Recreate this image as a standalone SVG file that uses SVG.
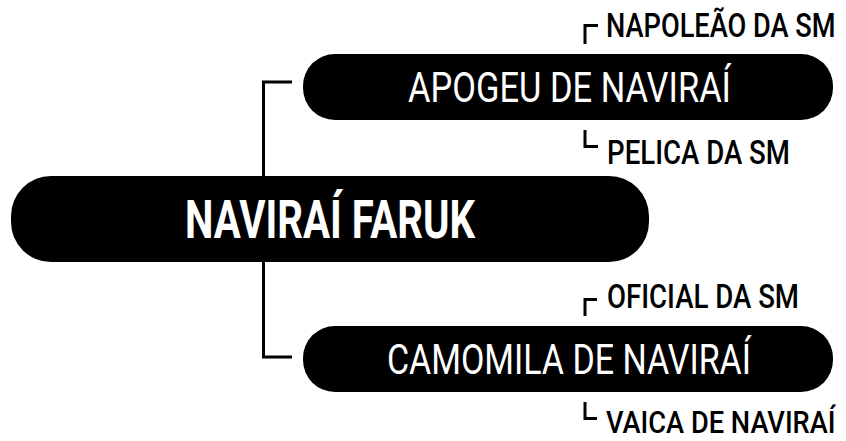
<svg xmlns="http://www.w3.org/2000/svg" width="846" height="441" viewBox="0 0 846 441">
<style>
.pill{fill:#000}
.ln{fill:none;stroke:#000;stroke-width:3}
.t{font-family:Roboto,"Liberation Sans",sans-serif;fill:#fff;text-anchor:start}
.main{font-size:53px;font-weight:700}
.sub{font-size:42px;font-weight:400}
.lbl{font-family:Roboto,"Liberation Sans",sans-serif;fill:#000;font-size:33px;font-weight:500}
</style>
<rect width="846" height="441" fill="#fff"/>
<g id="connectors">
<path class="ln" d="M292,82 H263.5 V357 H292"/>
<path class="ln" d="M585,44 V25.5 H598"/>
<path class="ln" d="M585,130 V146.5 H598"/>
<path class="ln" d="M585,316 V299.5 H597"/>
<path class="ln" d="M585,402 V418.5 H597"/>
</g>
<g id="navirai-faruk">
<rect class="pill" x="11" y="176" width="638" height="86" rx="40"/>
<text class="t main" x="185" y="238" textLength="290" lengthAdjust="spacingAndGlyphs">NAVIRAÍ FARUK</text>
</g>
<g id="apogeu">
<rect class="pill" x="303" y="54" width="530" height="66" rx="32"/>
<text class="t sub" x="408" y="102" textLength="323" lengthAdjust="spacingAndGlyphs">APOGEU DE NAVIRAÍ</text>
</g>
<g id="camomila">
<rect class="pill" x="303" y="326" width="530" height="66" rx="32"/>
<text class="t sub" x="387" y="374" textLength="364" lengthAdjust="spacingAndGlyphs">CAMOMILA DE NAVIRAÍ</text>
</g>
<g id="napoleao">
<text class="lbl" transform="translate(606,37) scale(0.85,1)" x="0" y="0" textLength="270" lengthAdjust="spacingAndGlyphs">NAPOLEÃO DA SM</text>
</g>
<g id="pelica">
<text class="lbl" x="607" y="164" textLength="183" lengthAdjust="spacingAndGlyphs">PELICA DA SM</text>
</g>
<g id="oficial">
<text class="lbl" x="607" y="308" textLength="192" lengthAdjust="spacingAndGlyphs">OFICIAL DA SM</text>
</g>
<g id="vaica">
<text class="lbl" style="font-size:32px" transform="translate(606,432.5) scale(0.85,1)" x="0" y="0" textLength="270" lengthAdjust="spacingAndGlyphs">VAICA DE NAVIRAÍ</text>
</g>
</svg>
